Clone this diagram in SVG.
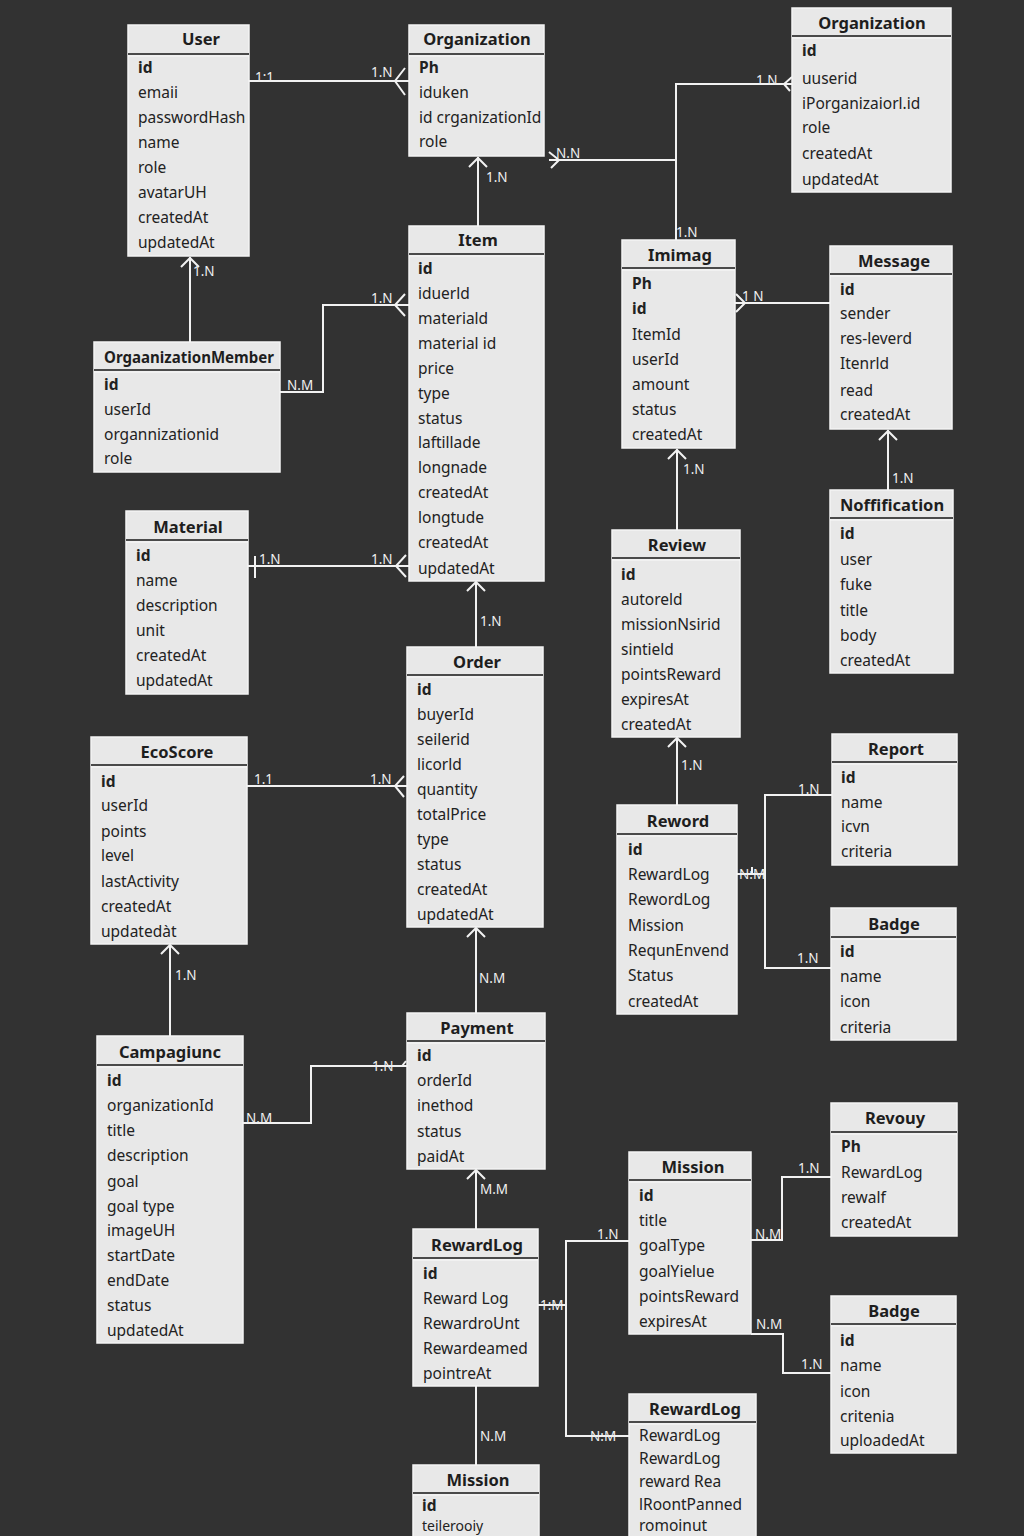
<svg xmlns="http://www.w3.org/2000/svg" width="1024" height="1536" viewBox="0 0 1024 1536">
  <defs>
    <style>
      .box { fill: #e8e8e8; stroke: #f4f4f4; stroke-width: 1.5; }
      .sep { stroke: #4a4a4a; stroke-width: 2; }
      .sep2 { stroke: #fafafa; stroke-width: 1; }
      .title { font-family: "Noto Sans", "DejaVu Sans", sans-serif; font-size: 16.5px; font-weight: bold; fill: #1e1e1e; text-anchor: middle; dominant-baseline: central; }
      .row { font-family: "Noto Sans", "DejaVu Sans", sans-serif; font-size: 15.5px; fill: #222; dominant-baseline: central; }
      .pk { font-weight: bold; }
      .ln { fill: none; stroke: #f2f2f2; stroke-width: 2; }
      .lbl { font-family: "Noto Sans", "DejaVu Sans", sans-serif; font-size: 13.5px; fill: #f0f0f0; dominant-baseline: central; }
    </style>
  </defs>
  <rect width="1024" height="1536" fill="#323232"/>

  <!-- relationship lines -->
  <g id="connectors">
    <!-- User - Organization -->
    <line class="ln" x1="249" y1="81" x2="409" y2="81"/>
    <polyline class="ln" points="405,68 395,81 405,95"/>
    <text class="lbl" x="255" y="77">1:1</text>
    <text class="lbl" x="371" y="72">1.N</text>

    <!-- Item - Organization -->
    <line class="ln" x1="478" y1="226" x2="478" y2="157"/>
    <polyline class="ln" points="469,167 478,158 487,167"/>
    <text class="lbl" x="486" y="177">1.N</text>

    <!-- Organization - Organization - Imimag -->
    <polyline class="ln" points="549,160 676,160"/>
    <polyline class="ln" points="676,240 676,84 792,84"/>
    <polyline class="ln" points="549,152 559,160 551,168"/>
    <polyline class="ln" points="792,77 784,84 790,91"/>
    <text class="lbl" x="556" y="153">N.N</text>
    <text class="lbl" x="756" y="80">1.N</text>
    <text class="lbl" x="676" y="232">1.N</text>

    <!-- User - OrgaanizationMember -->
    <line class="ln" x1="190" y1="342" x2="190" y2="257"/>
    <polyline class="ln" points="181,267 190,258 199,267"/>
    <text class="lbl" x="193" y="271">1.N</text>

    <!-- OrgaanizationMember - Item -->
    <polyline class="ln" points="280,392 323,392 323,305 409,305"/>
    <polyline class="ln" points="405,294 395,305 405,316"/>
    <text class="lbl" x="287" y="385">N.M</text>
    <text class="lbl" x="371" y="298">1.N</text>

    <!-- Imimag - Message -->
    <line class="ln" x1="735" y1="303" x2="830" y2="303"/>
    <polyline class="ln" points="736,294 745,303 736,312"/>
    <text class="lbl" x="742" y="296">1 N</text>

    <!-- Imimag - Review -->
    <line class="ln" x1="677" y1="530" x2="677" y2="449"/>
    <polyline class="ln" points="668,459 677,450 686,459"/>
    <text class="lbl" x="683" y="469">1.N</text>

    <!-- Message - Noffification -->
    <line class="ln" x1="888" y1="490" x2="888" y2="430"/>
    <polyline class="ln" points="879,440 888,431 897,440"/>
    <text class="lbl" x="892" y="478">1.N</text>

    <!-- Material - Item -->
    <line class="ln" x1="248" y1="566" x2="409" y2="566"/>
    <line class="ln" x1="255" y1="556" x2="255" y2="578"/>
    <polyline class="ln" points="406,555 396,566 406,577"/>
    <text class="lbl" x="259" y="559">1.N</text>
    <text class="lbl" x="371" y="559">1.N</text>

    <!-- Item - Order -->
    <line class="ln" x1="476" y1="647" x2="476" y2="582"/>
    <polyline class="ln" points="467,591 476,582 485,591"/>
    <text class="lbl" x="480" y="621">1.N</text>

    <!-- EcoScore - Order -->
    <line class="ln" x1="247" y1="786" x2="407" y2="786"/>
    <polyline class="ln" points="404,776 395,786 404,797"/>
    <text class="lbl" x="254" y="779">1.1</text>
    <text class="lbl" x="370" y="779">1.N</text>

    <!-- Review - Reword -->
    <line class="ln" x1="677" y1="805" x2="677" y2="738"/>
    <polyline class="ln" points="668,747 677,738 686,747"/>
    <text class="lbl" x="681" y="765">1.N</text>

    <!-- Reword - Report / Badge -->
    <polyline class="ln" points="737,874 765,874"/>
    <polyline class="ln" points="832,795 765,795 765,968 831,968"/>
    <line class="ln" x1="752" y1="867" x2="752" y2="874"/>
    <text class="lbl" x="739" y="874">N:M</text>
    <text class="lbl" x="798" y="789">1.N</text>
    <text class="lbl" x="797" y="958">1.N</text>

    <!-- Order - Payment -->
    <line class="ln" x1="476" y1="1013" x2="476" y2="928"/>
    <polyline class="ln" points="467,937 476,928 485,937"/>
    <text class="lbl" x="479" y="978">N.M</text>

    <!-- EcoScore - Campagiunc -->
    <line class="ln" x1="170" y1="1036" x2="170" y2="945"/>
    <polyline class="ln" points="161,954 170,945 179,954"/>
    <text class="lbl" x="175" y="975">1.N</text>

    <!-- Campagiunc - Payment -->
    <polyline class="ln" points="243,1123 311,1123 311,1066 407,1066"/>
    <polyline class="ln" points="406,1061 402,1066"/>
    <text class="lbl" x="246" y="1118">N.M</text>
    <text class="lbl" x="372" y="1066">1.N</text>

    <!-- Payment - RewardLog -->
    <line class="ln" x1="476" y1="1229" x2="476" y2="1170"/>
    <polyline class="ln" points="467,1179 476,1170 485,1179"/>
    <text class="lbl" x="480" y="1189">M.M</text>

    <!-- RewardLog - Mission / RewardLog -->
    <line class="ln" x1="538" y1="1305" x2="566" y2="1305"/>
    <polyline class="ln" points="629,1241 566,1241 566,1436 629,1436"/>
    <text class="lbl" x="540" y="1305">1:M</text>
    <text class="lbl" x="597" y="1234">1.N</text>
    <text class="lbl" x="590" y="1436">N:M</text>

    <!-- Mission - Revouy -->
    <polyline class="ln" points="751,1240 782,1240 782,1177 831,1177"/>
    <text class="lbl" x="755" y="1234">N.M</text>
    <text class="lbl" x="798" y="1168">1.N</text>

    <!-- Mission - Badge -->
    <polyline class="ln" points="751,1334 783,1334 783,1373 831,1373"/>
    <text class="lbl" x="756" y="1324">N.M</text>
    <text class="lbl" x="801" y="1364">1.N</text>

    <!-- RewardLog - Mission -->
    <line class="ln" x1="476" y1="1386" x2="476" y2="1465"/>
    <text class="lbl" x="480" y="1436">N.M</text>
  </g>

  <!-- entities -->
  <g id="user">
    <rect class="box" x="128" y="25" width="121" height="231"/>
    <line class="sep" x1="128" y1="54" x2="249" y2="54"/><line class="sep2" x1="128" y1="56" x2="249" y2="56"/>
    <text class="title" x="201" y="38">User</text>
    <text class="row pk" x="138" y="67">id</text>
    <text class="row" x="138" y="92">emaii</text>
    <text class="row" x="138" y="117">passwordHash</text>
    <text class="row" x="138" y="142">name</text>
    <text class="row" x="138" y="167">role</text>
    <text class="row" x="138" y="192">avatarUH</text>
    <text class="row" x="138" y="217">createdAt</text>
    <text class="row" x="138" y="242">updatedAt</text>
  </g>

  <g id="organization">
    <rect class="box" x="409" y="25" width="135" height="131"/>
    <line class="sep" x1="409" y1="54" x2="544" y2="54"/><line class="sep2" x1="409" y1="56" x2="544" y2="56"/>
    <text class="title" x="477" y="38">Organization</text>
    <text class="row pk" x="419" y="67">Ph</text>
    <text class="row" x="419" y="92">iduken</text>
    <text class="row" x="419" y="117">id crganizationId</text>
    <text class="row" x="419" y="141">role</text>
  </g>

  <g id="organization-2">
    <rect class="box" x="792" y="8" width="159" height="184"/>
    <line class="sep" x1="792" y1="36" x2="951" y2="36"/><line class="sep2" x1="792" y1="38" x2="951" y2="38"/>
    <text class="title" x="872" y="22">Organization</text>
    <text class="row pk" x="802" y="50">id</text>
    <text class="row" x="802" y="78">uuserid</text>
    <text class="row" x="802" y="103">iPorganizaiorl.id</text>
    <text class="row" x="802" y="127">role</text>
    <text class="row" x="802" y="153">createdAt</text>
    <text class="row" x="802" y="179">updatedAt</text>
  </g>

  <g id="item">
    <rect class="box" x="409" y="226" width="135" height="355"/>
    <line class="sep" x1="409" y1="254" x2="544" y2="254"/><line class="sep2" x1="409" y1="256" x2="544" y2="256"/>
    <text class="title" x="478" y="239">Item</text>
    <text class="row pk" x="418" y="268">id</text>
    <text class="row" x="418" y="293">iduerld</text>
    <text class="row" x="418" y="318">materiald</text>
    <text class="row" x="418" y="343">material id</text>
    <text class="row" x="418" y="368">price</text>
    <text class="row" x="418" y="393">type</text>
    <text class="row" x="418" y="418">status</text>
    <text class="row" x="418" y="442">laftillade</text>
    <text class="row" x="418" y="467">longnade</text>
    <text class="row" x="418" y="492">createdAt</text>
    <text class="row" x="418" y="517">longtude</text>
    <text class="row" x="418" y="542">createdAt</text>
    <text class="row" x="418" y="568">updatedAt</text>
  </g>

  <g id="orgaanization-member">
    <rect class="box" x="94" y="342" width="186" height="130"/>
    <line class="sep" x1="94" y1="370" x2="280" y2="370"/><line class="sep2" x1="94" y1="372" x2="280" y2="372"/>
    <text class="title" x="189" y="356" textLength="170" lengthAdjust="spacingAndGlyphs">OrgaanizationMember</text>
    <text class="row pk" x="104" y="384">id</text>
    <text class="row" x="104" y="409">userId</text>
    <text class="row" x="104" y="434">organnizationid</text>
    <text class="row" x="104" y="458">role</text>
  </g>

  <g id="imimag">
    <rect class="box" x="622" y="240" width="113" height="208"/>
    <line class="sep" x1="622" y1="268" x2="735" y2="268"/><line class="sep2" x1="622" y1="270" x2="735" y2="270"/>
    <text class="title" x="680" y="254">Imimag</text>
    <text class="row pk" x="632" y="283">Ph</text>
    <text class="row pk" x="632" y="308">id</text>
    <text class="row" x="632" y="334">ItemId</text>
    <text class="row" x="632" y="359">userId</text>
    <text class="row" x="632" y="384">amount</text>
    <text class="row" x="632" y="409">status</text>
    <text class="row" x="632" y="434">createdAt</text>
  </g>

  <g id="message">
    <rect class="box" x="830" y="246" width="122" height="183"/>
    <line class="sep" x1="830" y1="274" x2="952" y2="274"/><line class="sep2" x1="830" y1="276" x2="952" y2="276"/>
    <text class="title" x="894" y="260">Message</text>
    <text class="row pk" x="840" y="289">id</text>
    <text class="row" x="840" y="313">sender</text>
    <text class="row" x="840" y="338">res-leverd</text>
    <text class="row" x="840" y="363">Itenrld</text>
    <text class="row" x="840" y="390">read</text>
    <text class="row" x="840" y="414">createdAt</text>
  </g>

  <g id="material">
    <rect class="box" x="126" y="511" width="122" height="183"/>
    <line class="sep" x1="126" y1="540" x2="248" y2="540"/><line class="sep2" x1="126" y1="542" x2="248" y2="542"/>
    <text class="title" x="188" y="526">Material</text>
    <text class="row pk" x="136" y="555">id</text>
    <text class="row" x="136" y="580">name</text>
    <text class="row" x="136" y="605">description</text>
    <text class="row" x="136" y="630">unit</text>
    <text class="row" x="136" y="655">createdAt</text>
    <text class="row" x="136" y="680">updatedAt</text>
  </g>

  <g id="review">
    <rect class="box" x="612" y="530" width="128" height="207"/>
    <line class="sep" x1="612" y1="558" x2="740" y2="558"/><line class="sep2" x1="612" y1="560" x2="740" y2="560"/>
    <text class="title" x="677" y="544">Review</text>
    <text class="row pk" x="621" y="574">id</text>
    <text class="row" x="621" y="599">autoreld</text>
    <text class="row" x="621" y="624">missionNsirid</text>
    <text class="row" x="621" y="649">sintield</text>
    <text class="row" x="621" y="674">pointsReward</text>
    <text class="row" x="621" y="699">expiresAt</text>
    <text class="row" x="621" y="724">createdAt</text>
  </g>

  <g id="noffification">
    <rect class="box" x="830" y="490" width="123" height="183"/>
    <line class="sep" x1="830" y1="518" x2="953" y2="518"/><line class="sep2" x1="830" y1="520" x2="953" y2="520"/>
    <text class="title" x="892" y="504">Noffification</text>
    <text class="row pk" x="840" y="533">id</text>
    <text class="row" x="840" y="559">user</text>
    <text class="row" x="840" y="584">fuke</text>
    <text class="row" x="840" y="610">title</text>
    <text class="row" x="840" y="635">body</text>
    <text class="row" x="840" y="660">createdAt</text>
  </g>

  <g id="order">
    <rect class="box" x="407" y="647" width="136" height="280"/>
    <line class="sep" x1="407" y1="675" x2="543" y2="675"/><line class="sep2" x1="407" y1="677" x2="543" y2="677"/>
    <text class="title" x="477" y="661">Order</text>
    <text class="row pk" x="417" y="689">id</text>
    <text class="row" x="417" y="714">buyerId</text>
    <text class="row" x="417" y="739">seilerid</text>
    <text class="row" x="417" y="764">licorld</text>
    <text class="row" x="417" y="789">quantity</text>
    <text class="row" x="417" y="814">totalPrice</text>
    <text class="row" x="417" y="839">type</text>
    <text class="row" x="417" y="864">status</text>
    <text class="row" x="417" y="889">createdAt</text>
    <text class="row" x="417" y="914">updatedAt</text>
  </g>

  <g id="eco-score">
    <rect class="box" x="91" y="737" width="156" height="207"/>
    <line class="sep" x1="91" y1="765" x2="247" y2="765"/><line class="sep2" x1="91" y1="767" x2="247" y2="767"/>
    <text class="title" x="177" y="751">EcoScore</text>
    <text class="row pk" x="101" y="781">id</text>
    <text class="row" x="101" y="805">userId</text>
    <text class="row" x="101" y="831">points</text>
    <text class="row" x="101" y="855">level</text>
    <text class="row" x="101" y="881">lastActivity</text>
    <text class="row" x="101" y="906">createdAt</text>
    <text class="row" x="101" y="931">updatedàt</text>
  </g>

  <g id="report">
    <rect class="box" x="832" y="734" width="125" height="131"/>
    <line class="sep" x1="832" y1="762" x2="957" y2="762"/><line class="sep2" x1="832" y1="764" x2="957" y2="764"/>
    <text class="title" x="896" y="748">Report</text>
    <text class="row pk" x="841" y="777">id</text>
    <text class="row" x="841" y="802">name</text>
    <text class="row" x="841" y="826">icvn</text>
    <text class="row" x="841" y="851">criteria</text>
  </g>

  <g id="reword">
    <rect class="box" x="617" y="805" width="120" height="209"/>
    <line class="sep" x1="617" y1="834" x2="737" y2="834"/><line class="sep2" x1="617" y1="836" x2="737" y2="836"/>
    <text class="title" x="678" y="820">Reword</text>
    <text class="row pk" x="628" y="849">id</text>
    <text class="row" x="628" y="874">RewardLog</text>
    <text class="row" x="628" y="899">RewordLog</text>
    <text class="row" x="628" y="925">Mission</text>
    <text class="row" x="628" y="950">RequnEnvend</text>
    <text class="row" x="628" y="975">Status</text>
    <text class="row" x="628" y="1001">createdAt</text>
  </g>

  <g id="badge">
    <rect class="box" x="831" y="908" width="125" height="132"/>
    <line class="sep" x1="831" y1="937" x2="956" y2="937"/><line class="sep2" x1="831" y1="939" x2="956" y2="939"/>
    <text class="title" x="894" y="923">Badge</text>
    <text class="row pk" x="840" y="951">id</text>
    <text class="row" x="840" y="976">name</text>
    <text class="row" x="840" y="1001">icon</text>
    <text class="row" x="840" y="1027">criteria</text>
  </g>

  <g id="payment">
    <rect class="box" x="407" y="1013" width="138" height="156"/>
    <line class="sep" x1="407" y1="1041" x2="545" y2="1041"/><line class="sep2" x1="407" y1="1043" x2="545" y2="1043"/>
    <text class="title" x="477" y="1027">Payment</text>
    <text class="row pk" x="417" y="1055">id</text>
    <text class="row" x="417" y="1080">orderId</text>
    <text class="row" x="417" y="1105">inethod</text>
    <text class="row" x="417" y="1131">status</text>
    <text class="row" x="417" y="1156">paidAt</text>
  </g>

  <g id="campagiunc">
    <rect class="box" x="97" y="1036" width="146" height="307"/>
    <line class="sep" x1="97" y1="1065" x2="243" y2="1065"/><line class="sep2" x1="97" y1="1067" x2="243" y2="1067"/>
    <text class="title" x="170" y="1051">Campagiunc</text>
    <text class="row pk" x="107" y="1080">id</text>
    <text class="row" x="107" y="1105">organizationId</text>
    <text class="row" x="107" y="1130">title</text>
    <text class="row" x="107" y="1155">description</text>
    <text class="row" x="107" y="1181">goal</text>
    <text class="row" x="107" y="1206">goal type</text>
    <text class="row" x="107" y="1230">imageUH</text>
    <text class="row" x="107" y="1255">startDate</text>
    <text class="row" x="107" y="1280">endDate</text>
    <text class="row" x="107" y="1305">status</text>
    <text class="row" x="107" y="1330">updatedAt</text>
  </g>

  <g id="revouy">
    <rect class="box" x="831" y="1103" width="126" height="133"/>
    <line class="sep" x1="831" y1="1132" x2="957" y2="1132"/><line class="sep2" x1="831" y1="1134" x2="957" y2="1134"/>
    <text class="title" x="895" y="1117">Revouy</text>
    <text class="row pk" x="841" y="1146">Ph</text>
    <text class="row" x="841" y="1172">RewardLog</text>
    <text class="row" x="841" y="1197">rewalf</text>
    <text class="row" x="841" y="1222">createdAt</text>
  </g>

  <g id="mission">
    <rect class="box" x="629" y="1152" width="122" height="182"/>
    <line class="sep" x1="629" y1="1180" x2="751" y2="1180"/><line class="sep2" x1="629" y1="1182" x2="751" y2="1182"/>
    <text class="title" x="693" y="1166">Mission</text>
    <text class="row pk" x="639" y="1195">id</text>
    <text class="row" x="639" y="1220">title</text>
    <text class="row" x="639" y="1245">goalType</text>
    <text class="row" x="639" y="1271">goalYielue</text>
    <text class="row" x="639" y="1296">pointsReward</text>
    <text class="row" x="639" y="1321">expiresAt</text>
  </g>

  <g id="reward-log">
    <rect class="box" x="413" y="1229" width="125" height="157"/>
    <line class="sep" x1="413" y1="1258" x2="538" y2="1258"/><line class="sep2" x1="413" y1="1260" x2="538" y2="1260"/>
    <text class="title" x="477" y="1244">RewardLog</text>
    <text class="row pk" x="423" y="1273">id</text>
    <text class="row" x="423" y="1298">Reward Log</text>
    <text class="row" x="423" y="1323">RewardroUnt</text>
    <text class="row" x="423" y="1348">Rewardeamed</text>
    <text class="row" x="423" y="1373">pointreAt</text>
  </g>

  <g id="badge-2">
    <rect class="box" x="831" y="1296" width="125" height="157"/>
    <line class="sep" x1="831" y1="1324" x2="956" y2="1324"/><line class="sep2" x1="831" y1="1326" x2="956" y2="1326"/>
    <text class="title" x="894" y="1310">Badge</text>
    <text class="row pk" x="840" y="1340">id</text>
    <text class="row" x="840" y="1365">name</text>
    <text class="row" x="840" y="1391">icon</text>
    <text class="row" x="840" y="1416">critenia</text>
    <text class="row" x="840" y="1440">uploadedAt</text>
  </g>

  <g id="reward-log-2">
    <rect class="box" x="629" y="1394" width="127" height="160"/>
    <line class="sep" x1="629" y1="1422" x2="756" y2="1422"/><line class="sep2" x1="629" y1="1424" x2="756" y2="1424"/>
    <text class="title" x="695" y="1408">RewardLog</text>
    <text class="row" x="639" y="1435">RewardLog</text>
    <text class="row" x="639" y="1458">RewardLog</text>
    <text class="row" x="639" y="1481">reward Rea</text>
    <text class="row" x="639" y="1504">lRoontPanned</text>
    <text class="row" x="639" y="1525">romoinut</text>
  </g>

  <g id="mission-2">
    <rect class="box" x="413" y="1465" width="126" height="90"/>
    <line class="sep" x1="413" y1="1493" x2="539" y2="1493"/><line class="sep2" x1="413" y1="1495" x2="539" y2="1495"/>
    <text class="title" x="478" y="1479">Mission</text>
    <text class="row pk" x="422" y="1505">id</text>
    <text class="row" x="422" y="1525" style="font-size:14px">teilerooiy</text>
  </g>
</svg>
